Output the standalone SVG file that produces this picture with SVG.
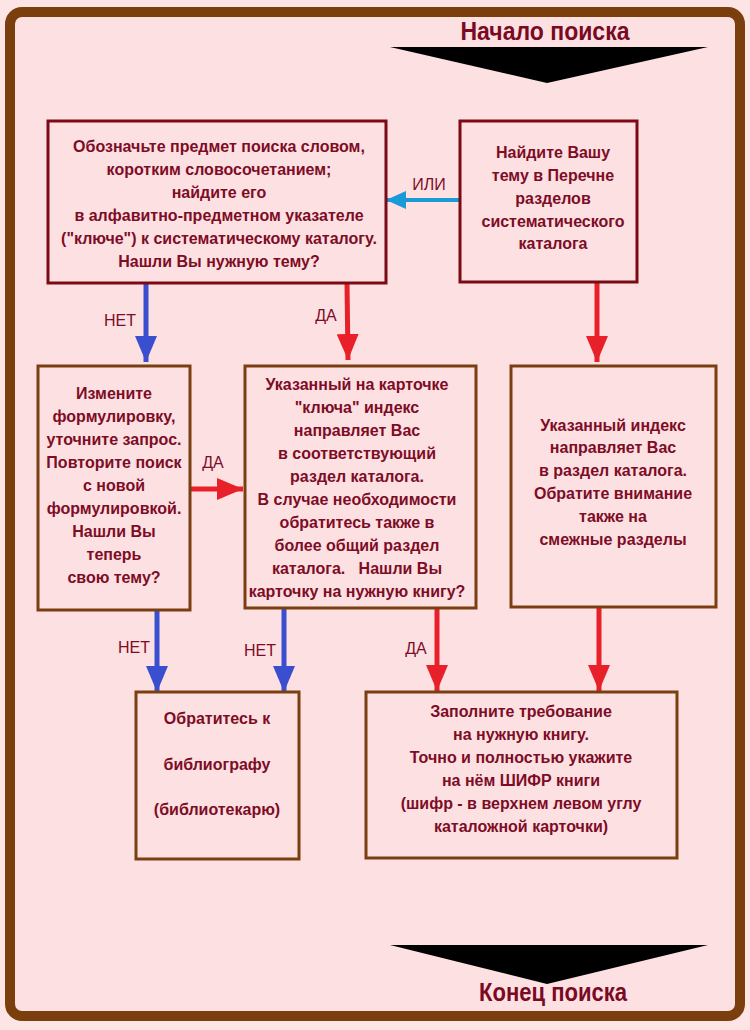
<svg xmlns="http://www.w3.org/2000/svg" width="750" height="1030" viewBox="0 0 750 1030">
<style>
.bg{fill:#fde4e5}
.frame{fill:#fde0e2;stroke:#7a3f0c;stroke-width:10}
.boxR{fill:#fde0e2;stroke:#7a0a14;stroke-width:3}
.boxB{fill:#fde0e2;stroke:#7a3f10;stroke-width:3}
.t{font-family:"Liberation Sans",Arial,sans-serif;font-size:16px;font-weight:bold;fill:#7d0c26;text-anchor:middle}
.lbl{font-family:"Liberation Sans",Arial,sans-serif;font-size:16px;fill:#7d0c26;text-anchor:middle}
.title{font-family:"Liberation Sans",Arial,sans-serif;font-size:25px;font-weight:bold;fill:#7a0a24;text-anchor:middle}
.red{stroke:#e8202a;stroke-width:5;fill:none}
.blue{stroke:#3a4fd0;stroke-width:5;fill:none}
.cyan{stroke:#1a9ad6;stroke-width:4;fill:none}
</style>
<defs>
<marker id="hr" markerUnits="userSpaceOnUse" markerWidth="26" markerHeight="22" refX="26" refY="11" orient="auto"><path d="M0,0 L26,11 L0,22 z" fill="#e8202a"/></marker>
<marker id="hb" markerUnits="userSpaceOnUse" markerWidth="26" markerHeight="22" refX="26" refY="11" orient="auto"><path d="M0,0 L26,11 L0,22 z" fill="#3a4fd0"/></marker>
<marker id="hc" markerUnits="userSpaceOnUse" markerWidth="20" markerHeight="18" refX="20" refY="9" orient="auto"><path d="M0,0 L20,9 L0,18 z" fill="#1a9ad6"/></marker>
</defs>
<rect class="bg" x="0" y="0" width="750" height="1030"/>
<rect class="frame" x="10" y="12" width="730" height="1004" rx="12"/>

<g id="start">
<text class="title" x="545" y="40" textLength="169" lengthAdjust="spacingAndGlyphs">Начало  поиска</text>
<path d="M390,47 L708,47 L547,83 z" fill="#000"/>
</g>
<g id="end">
<path d="M390,945 L708,945 L547,984 z" fill="#000"/>
<text class="title" x="553" y="1001" textLength="148" lengthAdjust="spacingAndGlyphs">Конец поиска</text>
</g>

<g id="connectors">
<line class="cyan" x1="460" y1="200" x2="386" y2="200" marker-end="url(#hc)"/>
<text class="lbl" x="429" y="190">ИЛИ</text>
<line class="blue" x1="146" y1="283" x2="146" y2="362" marker-end="url(#hb)"/>
<text class="lbl" x="120" y="326">НЕТ</text>
<line class="red" x1="347" y1="283" x2="348" y2="360" marker-end="url(#hr)"/>
<text class="lbl" x="326" y="321">ДА</text>
<line class="red" x1="597" y1="282" x2="597" y2="362" marker-end="url(#hr)"/>
<line class="red" x1="190" y1="489" x2="243" y2="489" marker-end="url(#hr)"/>
<text class="lbl" x="213" y="468">ДА</text>
<line class="blue" x1="157" y1="610" x2="157" y2="692" marker-end="url(#hb)"/>
<text class="lbl" x="134" y="653">НЕТ</text>
<line class="blue" x1="284" y1="608" x2="284" y2="692" marker-end="url(#hb)"/>
<text class="lbl" x="260" y="656">НЕТ</text>
<line class="red" x1="437" y1="608" x2="437" y2="691" marker-end="url(#hr)"/>
<text class="lbl" x="416" y="654">ДА</text>
<line class="red" x1="599" y1="607" x2="599" y2="691" marker-end="url(#hr)"/>
</g>

<g id="boxA">
<rect class="boxR" x="48" y="121" width="338" height="162"/>
<text class="t" x="219" y="152">Обозначьте предмет поиска словом,</text>
<text class="t" x="219" y="175">коротким словосочетанием;</text>
<text class="t" x="219" y="198">найдите его</text>
<text class="t" x="219" y="221">в алфавитно-предметном указателе</text>
<text class="t" x="219" y="244">("ключе") к систематическому каталогу.</text>
<text class="t" x="219" y="267">Нашли Вы нужную тему?</text>
</g>

<g id="boxB">
<rect class="boxR" x="460" y="121" width="177" height="161"/>
<text class="t" x="553" y="158">Найдите Вашу</text>
<text class="t" x="553" y="181">тему в Перечне</text>
<text class="t" x="553" y="204">разделов</text>
<text class="t" x="553" y="227">систематического</text>
<text class="t" x="553" y="249">каталога</text>
</g>

<g id="boxC">
<rect class="boxB" x="38" y="366" width="152" height="244"/>
<text class="t" x="114" y="399">Измените</text>
<text class="t" x="114" y="422">формулировку,</text>
<text class="t" x="114" y="445">уточните запрос.</text>
<text class="t" x="114" y="468">Повторите поиск</text>
<text class="t" x="114" y="491">с новой</text>
<text class="t" x="114" y="514">формулировкой.</text>
<text class="t" x="114" y="537">Нашли Вы</text>
<text class="t" x="114" y="560">теперь</text>
<text class="t" x="114" y="583">свою тему?</text>
</g>

<g id="boxD">
<rect class="boxB" x="245" y="366" width="231" height="242"/>
<text class="t" x="357" y="390">Указанный на карточке</text>
<text class="t" x="357" y="413">"ключа" индекс</text>
<text class="t" x="357" y="436">направляет Вас</text>
<text class="t" x="357" y="459">в соответствующий</text>
<text class="t" x="357" y="482">раздел каталога.</text>
<text class="t" x="357" y="505">В случае необходимости</text>
<text class="t" x="357" y="528">обратитесь также в</text>
<text class="t" x="357" y="551">более общий раздел</text>
<text class="t" x="357" y="574" xml:space="preserve">каталога.   Нашли Вы</text>
<text class="t" x="357" y="597">карточку на нужную книгу?</text>
</g>

<g id="boxE">
<rect class="boxB" x="511" y="366" width="205" height="241"/>
<text class="t" x="613" y="431">Указанный индекс</text>
<text class="t" x="613" y="453">направляет Вас</text>
<text class="t" x="613" y="476">в раздел каталога.</text>
<text class="t" x="613" y="499">Обратите внимание</text>
<text class="t" x="613" y="522">также на</text>
<text class="t" x="613" y="545">смежные разделы</text>
</g>

<g id="boxF">
<rect class="boxB" x="136" y="692" width="163" height="167"/>
<text class="t" x="217" y="724">Обратитесь к</text>
<text class="t" x="217" y="770">библиографу</text>
<text class="t" x="217" y="815">(библиотекарю)</text>
</g>

<g id="boxG">
<rect class="boxB" x="366" y="692" width="311" height="166"/>
<text class="t" x="521" y="717">Заполните требование</text>
<text class="t" x="521" y="740">на нужную книгу.</text>
<text class="t" x="521" y="763">Точно и полностью укажите</text>
<text class="t" x="521" y="786">на нём ШИФР книги</text>
<text class="t" x="521" y="809">(шифр - в верхнем левом углу</text>
<text class="t" x="521" y="832">каталожной карточки)</text>
</g>
</svg>
